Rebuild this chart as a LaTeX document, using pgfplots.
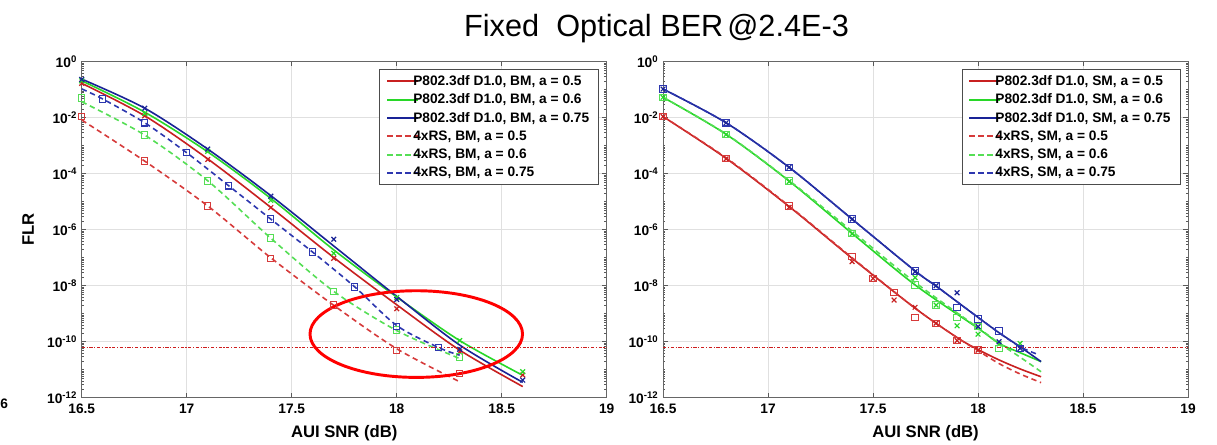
\documentclass[border=0pt]{standalone}
\usepackage{fontspec}
\setmainfont{Liberation Sans}
\usepackage{pgfplots}
\pgfplotsset{compat=1.18}

\definecolor{rA}{RGB}{200,32,32}
\definecolor{rB}{RGB}{214,58,58}
\definecolor{gA}{RGB}{40,215,40}
\definecolor{gB}{RGB}{85,222,85}
\definecolor{bA}{RGB}{25,35,150}
\definecolor{bB}{RGB}{45,55,175}
\definecolor{thr}{RGB}{205,30,30}

% minor log ticks, every 1..9 x 10^k
\def\minorlist{}
\foreach \ee in {-12,...,-1}{\foreach \mm in {2,...,9}{\xdef\minorlist{\minorlist\mm e\ee,}}}
\xdef\minorlist{\minorlist 1e-11,1e-9,1e-7,1e-5,1e-3,1e-1}

\pgfplotsset{
  flr/.style={
    width=393.75pt, height=252pt, scale only axis,
    xmin=16.5, xmax=19, ymin=1e-12, ymax=1,
    xtick={16.5,17,17.5,18,18.5,19},
    xticklabels={16.5,17,17.5,18,18.5,19},
    ytick={1e-12,1e-10,1e-8,1e-6,1e-4,1e-2,1},
    yticklabels={10\textsuperscript{-12},10\textsuperscript{-10},10\textsuperscript{-8},10\textsuperscript{-6},10\textsuperscript{-4},10\textsuperscript{-2},10\textsuperscript{0}},
    tick align=inside, xtick pos=both, ytick pos=both,
    major tick length=3.5pt, minor tick length=1.8pt,
    tick style={black!65, line width=0.5pt},
    axis line style={black!60, line width=0.6pt},
    grid=major, grid style={black!12, line width=0.5pt},
    ticklabel style={font=\bfseries\fontsize{10.3}{12}\selectfont},
    xticklabel style={yshift=-1pt},
    label style={font=\bfseries\fontsize{12.5}{14}\selectfont},
    xlabel={AUI SNR (dB)},
    xlabel style={at={(axis description cs:0.5,-0.105)}, anchor=center},
    legend cell align=left,
    legend style={at={(rel axis cs:0.985,0.978)}, anchor=north east,
      font=\bfseries\fontsize{10.3}{12}\selectfont, draw=black!70,
      inner xsep=5pt, inner ysep=2.5pt, row sep=0.85pt,
      /tikz/every even column/.append style={column sep=0pt}},
  },
  sol/.style={smooth, line width=1.2pt},
  das/.style={smooth, line width=1.2pt, dash pattern=on 4pt off 2.8pt},
  mx/.style={only marks, mark=x, mark size=2.5pt, mark options={solid, line width=0.9pt}, forget plot},
  ms/.style={only marks, mark=square, mark size=2.4pt, mark options={solid, line width=0.8pt}, forget plot},
}
% the sample line reaches past its cell so that the text follows it closely
\pgfplotsset{legend image code/.code={%
  \path (0pt,0pt) -- (17pt,0pt);
  \draw[#1, line width=1.5pt, overlay] (0pt,0pt) -- (23pt,0pt);}}

\begin{document}
\begin{tikzpicture}
\useasboundingbox (0,0) rectangle (912.75pt,-333pt);

% ---------------- left: BM ----------------
\begin{axis}[ymode=log, flr, minor ytick/.expand once={\minorlist},
  at={(61.3pt,-46.3pt)}, anchor=north west,
  ylabel={FLR}, ylabel style={at={(axis description cs:-0.102,0.5)}, anchor=center}]
\addplot[sol, rA] coordinates {(16.5,1.70e-1)(16.8,1.17e-2)(17.1,3.39e-4)(17.4,6.31e-6)(17.7,1.02e-7)(18.0,2.09e-9)(18.3,5.01e-11)(18.6,2.51e-12)};
\addlegendentry{P802.3df D1.0, BM, a = 0.5}
\addplot[sol, gA] coordinates {(16.5,2.09e-1)(16.8,1.58e-2)(17.1,6.03e-4)(17.4,1.32e-5)(17.7,1.91e-7)(18.0,3.98e-9)(18.3,1.10e-10)(18.6,6.31e-12)};
\addlegendentry{P802.3df D1.0, BM, a = 0.6}
\addplot[sol, bA] coordinates {(16.5,2.40e-1)(16.8,2.19e-2)(17.1,7.59e-4)(17.4,1.66e-5)(17.7,2.63e-7)(18.0,4.17e-9)(18.3,7.59e-11)(18.6,3.55e-12)};
\addlegendentry{P802.3df D1.0, BM, a = 0.75}
\addplot[das, rB] coordinates {(16.5,8.32e-3)(16.8,2.82e-4)(17.1,7.08e-6)(17.4,1.0e-7)(17.7,2.0e-9)(18.0,5.62e-11)(18.3,3.72e-12)};
\addlegendentry{4xRS, BM, a = 0.5}
\addplot[das, gB] coordinates {(16.5,3.72e-2)(16.8,2.40e-3)(17.1,5.62e-5)(17.4,5.01e-7)(17.7,6.31e-9)(18.0,2.51e-10)(18.3,2.51e-11)};
\addlegendentry{4xRS, BM, a = 0.6}
\addplot[das, bB] coordinates {(16.5,1.07e-1)(16.6,4.68e-2)(16.8,6.61e-3)(17.0,5.62e-4)(17.2,3.72e-5)(17.4,2.40e-6)(17.6,1.58e-7)(17.8,9.12e-9)(18.0,3.80e-10)(18.2,6.17e-11)(18.3,3.31e-11)};
\addlegendentry{4xRS, BM, a = 0.75}
% simulated points
\addplot[mx, rA] coordinates {(16.5,1.70e-1)(16.8,1.17e-2)(17.1,3.24e-4)(17.4,6.17e-6)(17.7,9.55e-8)(18.0,1.51e-9)(18.3,4.37e-11)(18.6,6.46e-12)};
\addplot[mx, gA] coordinates {(16.5,2.09e-1)(16.8,1.41e-2)(17.1,6.31e-4)(17.4,1.12e-5)(17.7,1.45e-7)(18.0,3.80e-9)(18.3,1.10e-10)(18.6,8.51e-12)};
\addplot[mx, bA] coordinates {(16.5,2.34e-1)(16.8,2.19e-2)(17.1,7.59e-4)(17.4,1.58e-5)(17.7,4.57e-7)(18.0,3.24e-9)(18.3,5.37e-11)(18.6,4.27e-12)};
\addplot[ms, rB] coordinates {(16.5,1.10e-2)(16.8,2.82e-4)(17.1,7.08e-6)(17.4,9.55e-8)(17.7,2.04e-9)(18.0,4.79e-11)(18.3,7.41e-12)};
\addplot[ms, gB] coordinates {(16.5,5.13e-2)(16.8,2.40e-3)(17.1,5.50e-5)(17.4,5.13e-7)(17.7,6.17e-9)(18.0,2.63e-10)(18.3,2.88e-11)};
\addplot[ms, bB] coordinates {(16.6,4.68e-2)(16.8,6.61e-3)(17.0,5.62e-4)(17.2,3.72e-5)(17.4,2.40e-6)(17.6,1.62e-7)(17.8,9.12e-9)(18.0,3.47e-10)(18.2,6.17e-11)};
% FLR target
\addplot[thr, line width=0.9pt, dash pattern=on 2.5pt off 1.2pt on 0.8pt off 1.2pt, forget plot] coordinates {(16.5,6.2e-11)(19,6.2e-11)};
\draw[red, line width=2.2pt] (axis cs:18.093,1.88e-10) ellipse [x radius=79.7pt, y radius=32.5pt];
\end{axis}

% ---------------- right: SM ----------------
\begin{axis}[ymode=log, flr, minor ytick/.expand once={\minorlist},
  at={(497.3pt,-46.3pt)}, anchor=north west]
\addplot[sol, rA] coordinates {(16.5,1.10e-2)(16.8,3.55e-4)(17.1,6.76e-6)(17.4,9.55e-8)(17.7,1.58e-9)(17.9,1.41e-10)(18.0,5.25e-11)(18.1,2.24e-11)(18.2,1.07e-11)(18.3,5.62e-12)};
\addlegendentry{P802.3df D1.0, SM, a = 0.5}
\addplot[sol, gA] coordinates {(16.5,5.37e-2)(16.8,2.57e-3)(17.1,5.50e-5)(17.4,7.41e-7)(17.7,1.07e-8)(18.0,3.02e-10)(18.1,8.71e-11)(18.2,4.07e-11)(18.3,1.95e-11)};
\addlegendentry{P802.3df D1.0, SM, a = 0.6}
\addplot[sol, bA] coordinates {(16.5,1.06e-1)(16.8,6.61e-3)(17.1,1.70e-4)(17.4,2.40e-6)(17.7,3.39e-8)(17.8,9.77e-9)(17.9,2.69e-9)(18.0,7.41e-10)(18.1,2.09e-10)(18.2,6.61e-11)(18.3,1.95e-11)};
\addlegendentry{P802.3df D1.0, SM, a = 0.75}
\addplot[das, rB] coordinates {(16.5,1.10e-2)(16.8,3.72e-4)(17.1,7.08e-6)(17.4,1.0e-7)(17.7,1.58e-9)(17.9,1.41e-10)(18.0,4.79e-11)(18.1,1.66e-11)(18.2,7.08e-12)(18.3,3.47e-12)};
\addlegendentry{4xRS, SM, a = 0.5}
\addplot[das, gB] coordinates {(16.5,5.37e-2)(16.8,2.63e-3)(17.1,5.75e-5)(17.4,8.91e-7)(17.7,1.32e-8)(18.0,3.16e-10)(18.1,8.91e-11)(18.2,2.82e-11)(18.3,8.51e-12)};
\addlegendentry{4xRS, SM, a = 0.6}
\addplot[das, bB] coordinates {(16.5,1.06e-1)(16.8,6.61e-3)(17.1,1.70e-4)(17.4,2.40e-6)(17.7,3.39e-8)(17.8,9.77e-9)(17.9,2.69e-9)(18.0,7.41e-10)(18.1,2.09e-10)(18.2,6.61e-11)(18.28,3.63e-11)};
\addlegendentry{4xRS, SM, a = 0.75}
\addplot[mx, rA] coordinates {(16.5,1.10e-2)(16.8,3.39e-4)(17.1,6.31e-6)(17.4,7.24e-8)(17.5,1.82e-8)(17.6,3.09e-9)(17.7,1.70e-9)(17.8,4.57e-10)(17.9,1.10e-10)(18.0,5.01e-11)};
\addplot[mx, gA] coordinates {(16.5,5.37e-2)(16.8,2.51e-3)(17.1,5.25e-5)(17.4,7.08e-7)(17.7,1.95e-8)(17.8,2.04e-9)(17.9,3.72e-10)(18.0,1.86e-10)(18.1,8.32e-11)(18.2,8.71e-11)};
\addplot[mx, bA] coordinates {(16.5,1.06e-1)(16.8,6.61e-3)(17.1,1.70e-4)(17.4,2.40e-6)(17.7,3.16e-8)(17.8,1.0e-8)(17.9,5.62e-9)(18.0,3.47e-10)(18.1,1.0e-10)(18.2,5.75e-11)};
\addplot[ms, rB] coordinates {(16.5,1.10e-2)(16.8,3.55e-4)(17.1,7.08e-6)(17.4,1.10e-7)(17.5,1.82e-8)(17.6,5.62e-9)(17.7,7.24e-10)(17.8,4.57e-10)(17.9,1.10e-10)(18.0,5.01e-11)};
\addplot[ms, gB] coordinates {(16.5,5.37e-2)(16.8,2.57e-3)(17.1,5.50e-5)(17.4,7.41e-7)(17.7,1.07e-8)(17.8,2.04e-9)(17.9,7.24e-10)(18.0,3.47e-10)(18.1,5.75e-11)};
\addplot[ms, bB] coordinates {(16.5,1.06e-1)(16.8,6.61e-3)(17.1,1.70e-4)(17.4,2.40e-6)(17.7,3.39e-8)(17.8,9.77e-9)(17.9,1.70e-9)(18.0,6.46e-10)(18.1,2.45e-10)(18.2,5.75e-11)};
\addplot[thr, line width=0.9pt, dash pattern=on 2.5pt off 1.2pt on 0.8pt off 1.2pt, forget plot] coordinates {(16.5,6.2e-11)(19,6.2e-11)};
\end{axis}

% title and the cut-off label at the left edge
\node[anchor=base, font=\fontsize{23}{27}\selectfont] at (492.4pt,-27pt) {Fixed\hspace{6.5pt} Optical BER\hspace{3pt}@2.4E-3};
\node[anchor=west, font=\bfseries\fontsize{10.3}{12}\selectfont, inner sep=0pt] at (0pt,-303pt) {6};
\end{tikzpicture}
\end{document}
